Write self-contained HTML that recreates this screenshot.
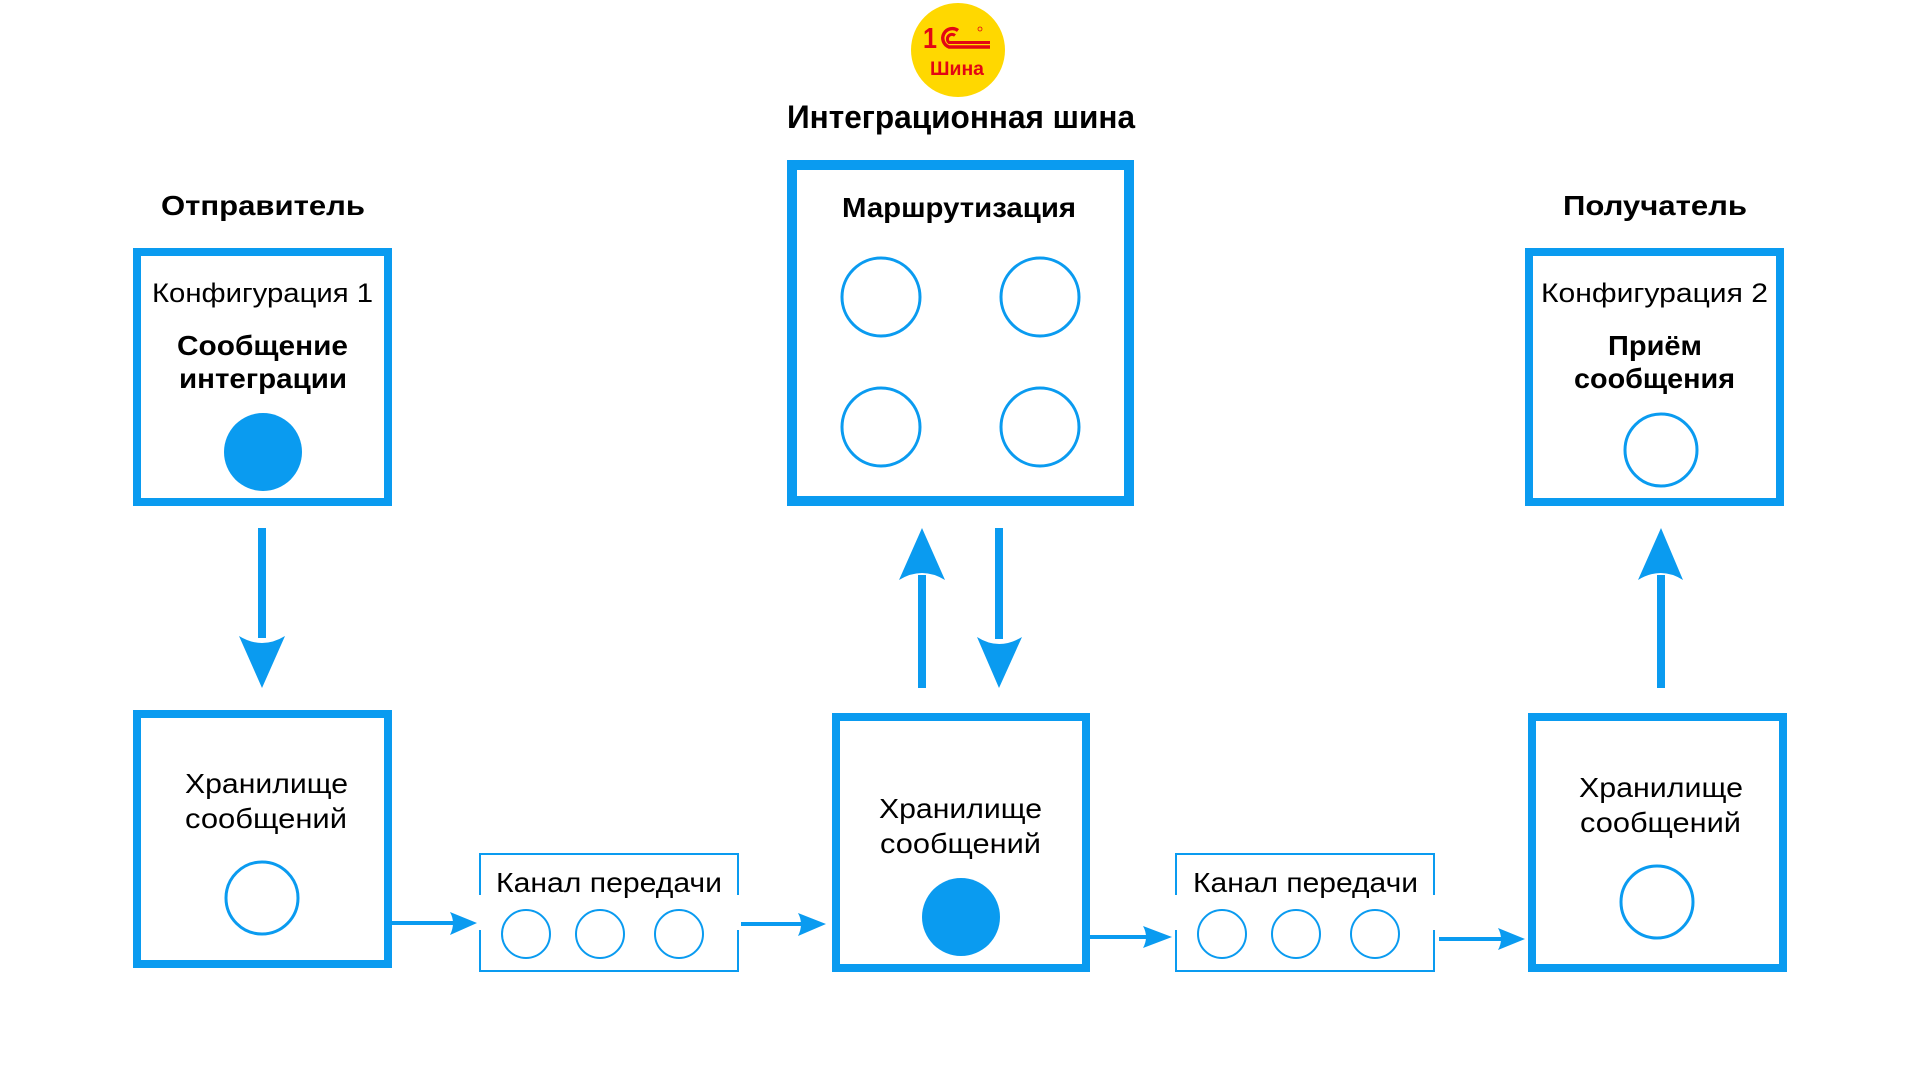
<!DOCTYPE html>
<html>
<head>
<meta charset="utf-8">
<style>
  html, body { margin: 0; padding: 0; background: #ffffff; }
  body { width: 1920px; height: 1080px; overflow: hidden; }
  svg { display: block; }
  .b { font-family: "Liberation Sans", "Noto Sans CJK SC", sans-serif; font-weight: 700; fill: #000; }
  .r { font-family: "Liberation Sans", "Noto Sans CJK SC", sans-serif; font-weight: 400; fill: #000; }
</style>
</head>
<body>
<svg width="1920" height="1080" viewBox="0 0 1920 1080" xmlns="http://www.w3.org/2000/svg">
  <rect x="0" y="0" width="1920" height="1080" fill="#ffffff"/>

  <!-- Logo -->
  <circle cx="958" cy="50" r="47" fill="#FFD800"/>
  <text x="923" y="48" font-family="Liberation Sans, sans-serif" font-weight="700" font-size="29" fill="#E30613" textLength="14" lengthAdjust="spacingAndGlyphs">1</text>
  <g fill="none" stroke="#E30613" stroke-linecap="butt">
    <path d="M958,30.5 A9.5,9.5 0 1 0 949,47 L990,47" stroke-width="3.4"/>
    <path d="M955,35.5 A4.5,4.5 0 1 0 949,42.5 L990,42.5" stroke-width="3"/>
  </g>
  <circle cx="980" cy="29" r="2" fill="none" stroke="#E30613" stroke-width="0.8"/>
  <text x="930" y="75" font-family="Liberation Sans, sans-serif" font-weight="700" font-size="19" fill="#E30613" textLength="54" lengthAdjust="spacingAndGlyphs">Шина</text>

  <!-- Headings -->
  <text class="b" x="787" y="128" font-size="32" textLength="348" lengthAdjust="spacingAndGlyphs">Интеграционная шина</text>
  <text class="b" x="161" y="215" font-size="28" textLength="204" lengthAdjust="spacingAndGlyphs">Отправитель</text>
  <text class="b" x="1563" y="215" font-size="28" textLength="184" lengthAdjust="spacingAndGlyphs">Получатель</text>

  <g fill="none" stroke="#0A9BF0">
    <!-- Sender config box -->
    <rect x="137" y="252" width="251" height="250" stroke-width="8"/>
    <!-- Routing box -->
    <rect x="792" y="165" width="337" height="336" stroke-width="10"/>
    <!-- Receiver config box -->
    <rect x="1529" y="252" width="251" height="250" stroke-width="8"/>
    <!-- Storage boxes -->
    <rect x="137" y="714" width="251" height="250" stroke-width="8"/>
    <rect x="836" y="717" width="250" height="251" stroke-width="8"/>
    <rect x="1532" y="717" width="251" height="251" stroke-width="8"/>
    <!-- Channel boxes (with side gaps) -->
    <path d="M480,895 V854 H738 V895 M738,930 V971 H480 V930" stroke-width="2"/>
    <path d="M1176,895 V854 H1434 V895 M1434,930 V971 H1176 V930" stroke-width="2"/>

    <!-- Routing circles -->
    <circle cx="881" cy="297" r="39" stroke-width="3"/>
    <circle cx="1040" cy="297" r="39" stroke-width="3"/>
    <circle cx="881" cy="427" r="39" stroke-width="3"/>
    <circle cx="1040" cy="427" r="39" stroke-width="3"/>

    <!-- Receiver config circle -->
    <circle cx="1661" cy="450" r="36" stroke-width="3"/>
    <!-- Storage circles -->
    <circle cx="262" cy="898" r="36" stroke-width="3"/>
    <circle cx="1657" cy="902" r="36" stroke-width="3"/>

    <!-- Channel circles -->
    <circle cx="526" cy="934" r="24" stroke-width="2"/>
    <circle cx="600" cy="934" r="24" stroke-width="2"/>
    <circle cx="679" cy="934" r="24" stroke-width="2"/>
    <circle cx="1222" cy="934" r="24" stroke-width="2"/>
    <circle cx="1296" cy="934" r="24" stroke-width="2"/>
    <circle cx="1375" cy="934" r="24" stroke-width="2"/>
  </g>

  <!-- Filled circles -->
  <circle cx="263" cy="452" r="39" fill="#0A9BF0"/>
  <circle cx="961" cy="917" r="39" fill="#0A9BF0"/>

  <!-- Box texts -->
  <text class="b" x="842" y="217" font-size="28" textLength="234" lengthAdjust="spacingAndGlyphs">Маршрутизация</text>

  <text class="r" x="152" y="302" font-size="27" textLength="221" lengthAdjust="spacingAndGlyphs">Конфигурация 1</text>
  <text class="b" x="177" y="355" font-size="28" textLength="171" lengthAdjust="spacingAndGlyphs">Сообщение</text>
  <text class="b" x="179" y="388" font-size="28" textLength="168" lengthAdjust="spacingAndGlyphs">интеграции</text>

  <text class="r" x="1541" y="302" font-size="27" textLength="227" lengthAdjust="spacingAndGlyphs">Конфигурация 2</text>
  <text class="b" x="1608" y="355" font-size="28" textLength="94" lengthAdjust="spacingAndGlyphs">Приём</text>
  <text class="b" x="1574" y="388" font-size="28" textLength="161" lengthAdjust="spacingAndGlyphs">сообщения</text>

  <text class="r" x="185" y="793" font-size="28" textLength="163" lengthAdjust="spacingAndGlyphs">Хранилище</text>
  <text class="r" x="185" y="828" font-size="28" textLength="162" lengthAdjust="spacingAndGlyphs">сообщений</text>

  <text class="r" x="879" y="818" font-size="28" textLength="163" lengthAdjust="spacingAndGlyphs">Хранилище</text>
  <text class="r" x="880" y="853" font-size="28" textLength="161" lengthAdjust="spacingAndGlyphs">сообщений</text>

  <text class="r" x="1579" y="797" font-size="28" textLength="164" lengthAdjust="spacingAndGlyphs">Хранилище</text>
  <text class="r" x="1580" y="832" font-size="28" textLength="161" lengthAdjust="spacingAndGlyphs">сообщений</text>

  <text class="r" x="496" y="892" font-size="28" textLength="226" lengthAdjust="spacingAndGlyphs">Канал передачи</text>
  <text class="r" x="1193" y="892" font-size="28" textLength="225" lengthAdjust="spacingAndGlyphs">Канал передачи</text>

  <!-- Vertical arrows -->
  <g fill="#0A9BF0">
    <!-- Sender down -->
    <rect x="258" y="528" width="8" height="110"/>
    <path d="M262,688 L285,636 Q262,650 239,636 Z"/>
    <!-- Center up -->
    <rect x="918" y="575" width="8" height="113"/>
    <path d="M922,528 L945,580 Q922,566 899,580 Z"/>
    <!-- Center down -->
    <rect x="995" y="528" width="8" height="111"/>
    <path d="M999,688 L1022,637 Q999,651 977,637 Z"/>
    <!-- Receiver up -->
    <rect x="1657" y="575" width="8" height="113"/>
    <path d="M1661,528 L1683,580 Q1661,566 1638,580 Z"/>

    <!-- Horizontal arrows -->
    <rect x="392" y="921" width="62" height="4"/>
    <path d="M477,923 L450,912 Q456,923 450,935 Z"/>

    <rect x="741" y="922" width="61" height="4"/>
    <path d="M826,924 L798,913 Q804,924 798,936 Z"/>

    <rect x="1090" y="935" width="57" height="4"/>
    <path d="M1172,937 L1143,926 Q1149,937 1143,948 Z"/>

    <rect x="1439" y="937" width="63" height="4"/>
    <path d="M1525,939 L1498,928 Q1504,939 1498,950 Z"/>
  </g>
</svg>
</body>
</html>
